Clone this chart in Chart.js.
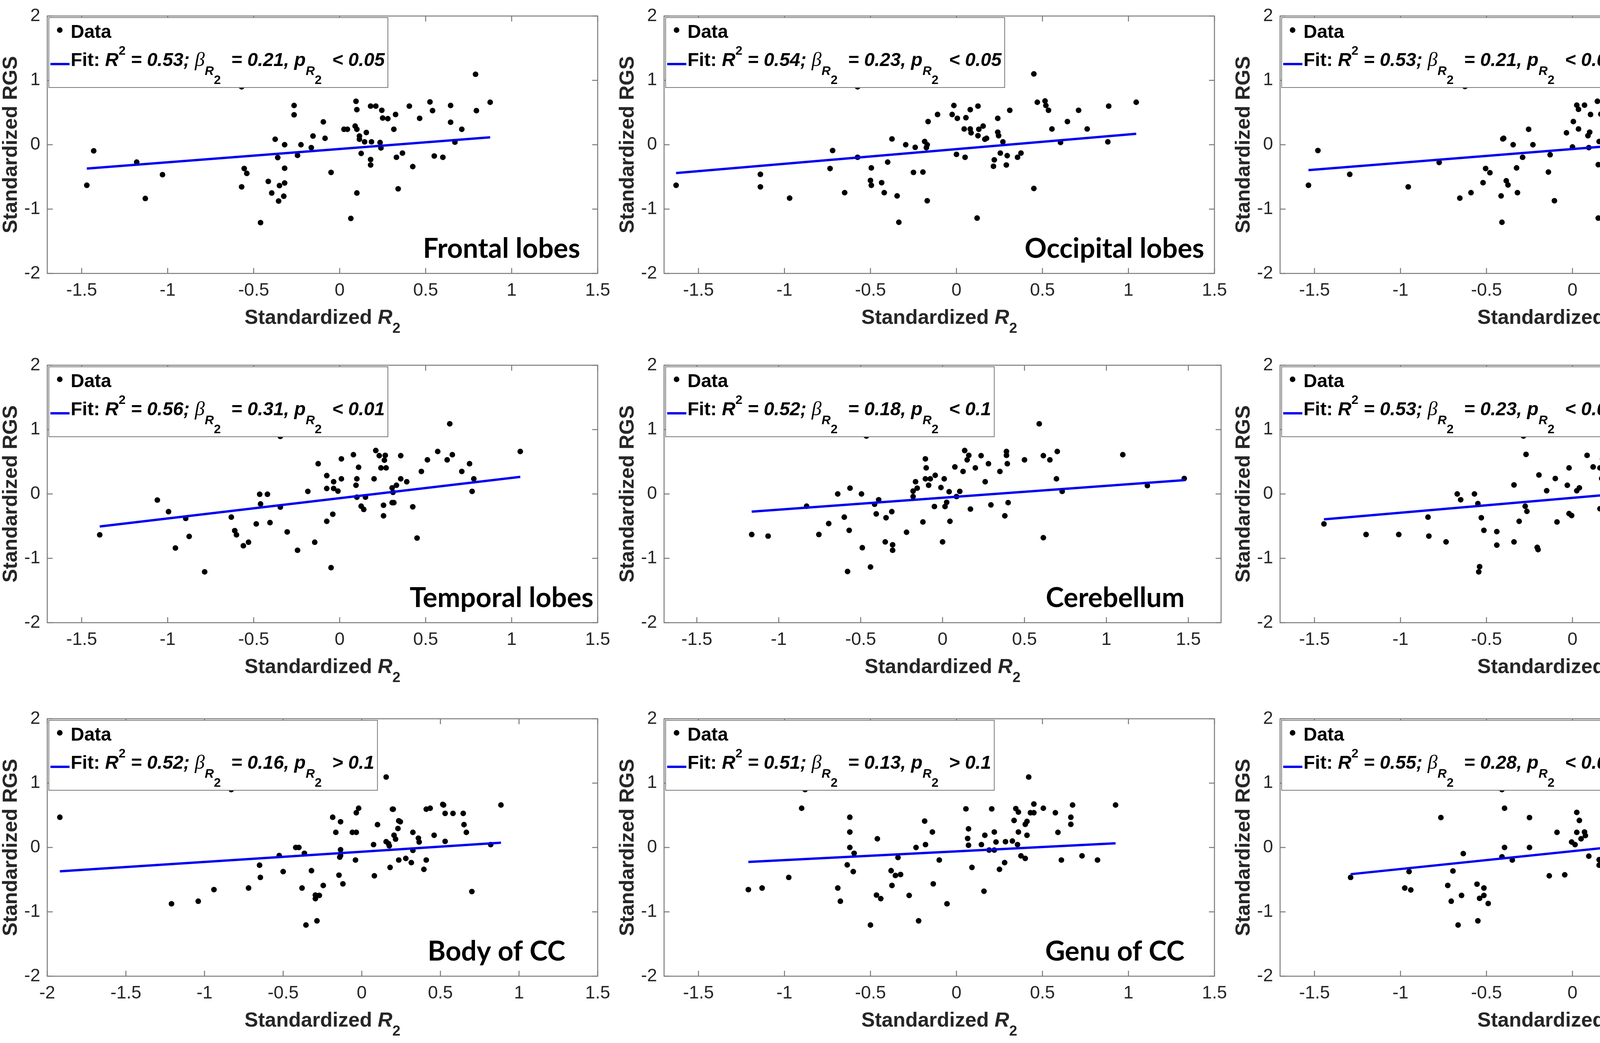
<!DOCTYPE html>
<html>
<head>
<meta charset="utf-8">
<script src="https://cdn.jsdelivr.net/npm/chart.js@4.4.1/dist/chart.umd.min.js"></script>
<style>
html, body { margin: 0; padding: 0; background: #fff; }
body { width: 4740px; height: 2670px; position: relative; overflow: hidden; }
canvas { position: absolute; }
</style>
</head>
<body>
<script>
// ---- data: [Standardized R2, Standardized RGS] ----
const frontal = [[-1.47,-0.63],[-1.43,-0.095],[-1.18,-0.27],[-1.13,-0.835],[-1.03,-0.465],[-0.57,0.9],[-0.57,-0.655],[-0.555,-0.37],[-0.54,-0.445],[-0.46,-1.21],[-0.415,-0.57],[-0.395,-0.75],[-0.375,0.085],[-0.36,-0.2],[-0.355,-0.875],[-0.35,-0.635],[-0.325,-0.8],[-0.32,-0.365],[-0.32,-0.595],[-0.32,0],[-0.265,0.61],[-0.265,0.465],[-0.245,-0.165],[-0.225,0],[-0.165,-0.045],[-0.155,0.135],[-0.095,0.355],[-0.085,0.1],[-0.05,-0.43],[0.025,0.24],[0.045,0.24],[0.065,-1.145],[0.09,0.29],[0.095,0.675],[0.1,0.545],[0.1,0.24],[0.1,-0.75],[0.115,0.135],[0.115,0.085],[0.125,-0.135],[0.145,0.045],[0.155,0.19],[0.18,0.6],[0.18,-0.23],[0.18,-0.315],[0.185,0.045],[0.21,0.6],[0.235,0.035],[0.24,-0.05],[0.245,0.535],[0.25,0.415],[0.28,0.405],[0.315,0.24],[0.325,0.47],[0.33,-0.195],[0.34,-0.685],[0.365,-0.13],[0.405,0.6],[0.425,-0.34],[0.465,0.41],[0.525,0.665],[0.54,0.53],[0.55,-0.175],[0.6,-0.195],[0.645,0.61],[0.645,0.35],[0.67,0.04],[0.71,0.24],[0.79,1.095],[0.795,0.53],[0.875,0.66]];
const occipital = [[-1.63,-0.63],[-1.14,-0.46],[-1.14,-0.655],[-0.97,-0.83],[-0.735,-0.37],[-0.72,-0.09],[-0.65,-0.745],[-0.575,0.9],[-0.575,-0.195],[-0.5,-0.555],[-0.495,-0.36],[-0.495,-0.63],[-0.435,-0.59],[-0.42,-0.745],[-0.4,-0.27],[-0.375,0.09],[-0.345,-0.795],[-0.335,-1.205],[-0.295,0],[-0.25,-0.43],[-0.24,-0.04],[-0.195,-0.425],[-0.185,0.05],[-0.175,-0.045],[-0.17,0],[-0.17,-0.87],[-0.165,0.36],[-0.11,0.47],[-0.025,0.47],[-0.015,0.61],[0,-0.15],[0.005,0.41],[0.045,0.245],[0.05,-0.195],[0.055,0.42],[0.08,0.545],[0.08,0.245],[0.085,0.185],[0.12,-1.14],[0.125,0.14],[0.125,0.6],[0.13,0.24],[0.155,0.29],[0.165,0.085],[0.175,0.1],[0.215,-0.335],[0.22,-0.235],[0.24,0.41],[0.24,0.195],[0.245,0.14],[0.255,-0.13],[0.27,0.045],[0.29,-0.315],[0.295,-0.17],[0.31,0.535],[0.355,-0.195],[0.375,-0.13],[0.45,1.1],[0.45,-0.68],[0.47,0.66],[0.515,0.68],[0.52,0.61],[0.535,0.535],[0.555,0.245],[0.605,0.035],[0.645,0.36],[0.71,0.535],[0.76,0.245],[0.88,0.045],[0.885,0.6],[1.045,0.66]];
const parietal = [[-1.535,-0.63],[-1.48,-0.09],[-1.295,-0.46],[-0.955,-0.655],[-0.775,-0.275],[-0.655,-0.83],[-0.625,0.905],[-0.59,-0.745],[-0.52,-0.59],[-0.505,-0.37],[-0.48,-0.435],[-0.415,-0.795],[-0.41,-1.205],[-0.405,0.09],[-0.4,0.1],[-0.385,-0.56],[-0.375,-0.625],[-0.345,0],[-0.325,-0.36],[-0.32,-0.745],[-0.29,-0.195],[-0.255,0.24],[-0.23,0],[-0.14,-0.425],[-0.13,-0.155],[-0.105,-0.87],[-0.035,0.185],[0,-0.035],[0.005,0.36],[0.025,0.615],[0.035,0.55],[0.035,0.245],[0.07,0.615],[0.09,0.14],[0.095,-0.045],[0.1,0.195],[0.105,0.47],[0.145,0.675],[0.15,-0.31],[0.15,-1.14],[0.155,0.05],[0.165,0.475],[0.18,0.42],[0.19,0.045],[0.195,-0.13],[0.2,0.295],[0.21,-0.195],[0.215,0.085],[0.225,-0.68],[0.28,0.24],[0.29,-0.23],[0.295,0.14],[0.295,0.41],[0.305,0.41],[0.315,-0.13],[0.325,0.61],[0.325,0.24],[0.335,0.535],[0.385,-0.165],[0.41,-0.335],[0.445,0.61],[0.475,0.035],[0.5,0.54],[0.53,0.62],[0.57,0.665],[0.585,0.535],[0.59,-0.195],[0.62,0.36],[0.705,1.1],[0.8,0.045],[0.825,0.24],[0.875,0.665]];
const temporal = [[-1.395,-0.635],[-1.06,-0.095],[-0.995,-0.275],[-0.955,-0.84],[-0.895,-0.38],[-0.875,-0.66],[-0.785,-1.21],[-0.63,-0.36],[-0.61,-0.57],[-0.6,-0.635],[-0.56,-0.805],[-0.53,-0.75],[-0.485,-0.465],[-0.465,-0.005],[-0.46,-0.155],[-0.42,-0.005],[-0.405,-0.445],[-0.345,0.895],[-0.345,-0.205],[-0.305,-0.59],[-0.245,-0.875],[-0.185,0.04],[-0.145,-0.75],[-0.125,0.47],[-0.075,0.085],[-0.075,0.285],[-0.075,-0.425],[-0.05,-1.145],[-0.04,-0.315],[-0.035,0.085],[-0.035,0.19],[-0.01,0.045],[0.01,0.545],[0.01,0.235],[0.08,0.61],[0.095,0.135],[0.1,-0.05],[0.1,0.235],[0.11,0.415],[0.125,-0.19],[0.14,-0.24],[0.15,-0.05],[0.2,0.235],[0.21,0.675],[0.23,0.595],[0.24,0.405],[0.255,-0.34],[0.255,-0.175],[0.26,0.525],[0.265,0.6],[0.27,0.405],[0.305,0.095],[0.305,-0.135],[0.31,0.025],[0.315,-0.135],[0.33,0.135],[0.355,0.595],[0.355,0.235],[0.39,0.19],[0.425,-0.2],[0.45,-0.685],[0.475,0.35],[0.51,0.53],[0.57,0.66],[0.625,0.53],[0.64,1.09],[0.655,0.61],[0.71,0.35],[0.755,0.47],[0.77,0.04],[0.78,0.235],[1.05,0.66]];
const cerebellum = [[-1.165,-0.63],[-1.065,-0.655],[-0.83,-0.19],[-0.755,-0.63],[-0.695,-0.46],[-0.64,0],[-0.6,-0.36],[-0.57,-0.565],[-0.565,0.09],[-0.58,-1.205],[-0.495,0],[-0.49,-0.835],[-0.465,0.9],[-0.44,-1.135],[-0.415,-0.16],[-0.405,-0.31],[-0.39,-0.09],[-0.35,-0.745],[-0.345,-0.37],[-0.31,-0.275],[-0.305,-0.79],[-0.305,-0.875],[-0.22,-0.595],[-0.18,0.045],[-0.18,-0.04],[-0.165,0.19],[-0.155,0.09],[-0.12,-0.435],[-0.105,0.545],[-0.1,0.405],[-0.105,0.235],[-0.085,0.135],[-0.075,0.235],[-0.05,-0.195],[-0.045,0.29],[-0.01,0.1],[0,-0.745],[0.01,0.235],[0.015,-0.195],[0.025,-0.13],[0.04,0.035],[0.045,-0.425],[0.075,0.42],[0.085,-0.04],[0.105,0.04],[0.125,0.35],[0.135,0.675],[0.15,0.53],[0.16,0.6],[0.17,-0.235],[0.2,0.405],[0.235,0.595],[0.26,0.19],[0.28,0.47],[0.295,-0.17],[0.35,0.35],[0.38,-0.34],[0.39,0.66],[0.39,0.6],[0.395,0.47],[0.4,-0.135],[0.5,0.53],[0.59,1.09],[0.615,-0.68],[0.615,0.595],[0.655,0.53],[0.695,0.235],[0.7,0.66],[0.73,0.04],[1.1,0.61],[1.25,0.13],[1.475,0.24]];
const internalCapsules = [[-1.445,-0.465],[-1.2,-0.63],[-1.01,-0.63],[-0.84,-0.36],[-0.835,-0.655],[-0.735,-0.745],[-0.67,0],[-0.65,-0.09],[-0.57,0],[-0.55,-0.15],[-0.54,-1.13],[-0.545,-1.21],[-0.53,-0.37],[-0.515,-0.565],[-0.44,-0.585],[-0.44,-0.795],[-0.34,0.14],[-0.34,-0.745],[-0.31,-0.425],[-0.285,0.9],[-0.275,-0.19],[-0.27,0.615],[-0.265,-0.27],[-0.205,-0.83],[-0.2,-0.865],[-0.195,0.295],[-0.15,0.05],[-0.1,0.24],[-0.09,-0.435],[-0.03,0.135],[-0.02,-0.305],[-0.02,0.405],[-0.005,-0.335],[0.025,0.05],[0.04,0.095],[0.085,0.6],[0.12,0.42],[0.16,-0.23],[0.16,0.405],[0.17,0.24],[0.175,0.24],[0.175,0.545],[0.22,0.24],[0.235,0.475],[0.24,0.045],[0.27,-0.04],[0.28,-0.04],[0.285,0.6],[0.3,0.6],[0.285,-0.19],[0.305,-0.19],[0.325,0.095],[0.33,0.35],[0.335,-0.165],[0.36,-0.68],[0.365,0.19],[0.4,0.19],[0.405,0.53],[0.45,0.675],[0.465,1.095],[0.465,-0.135],[0.475,0.53],[0.49,0.35],[0.515,0.66],[0.57,0.105],[0.575,0.47],[0.595,-0.135],[0.625,0.615],[0.645,0.53],[0.85,0.05],[0.92,0.24],[1.015,0.66]];
const bodyCC = [[-1.92,0.47],[-1.21,-0.875],[-1.04,-0.835],[-0.94,-0.655],[-0.83,0.9],[-0.72,-0.63],[-0.65,-0.275],[-0.645,-0.465],[-0.525,-0.125],[-0.5,-0.375],[-0.42,0],[-0.4,0],[-0.38,-0.63],[-0.365,-0.09],[-0.355,-1.205],[-0.32,-0.36],[-0.295,-0.795],[-0.295,-0.74],[-0.285,-1.14],[-0.27,-0.745],[-0.245,-0.59],[-0.185,0.47],[-0.165,0.235],[-0.145,-0.43],[-0.14,-0.15],[-0.135,0.4],[-0.135,-0.035],[-0.135,-0.125],[-0.12,-0.565],[-0.06,0.235],[-0.04,-0.195],[-0.035,0.235],[-0.035,0.54],[-0.02,0.61],[0.075,0.045],[0.08,-0.44],[0.1,0.355],[0.155,1.095],[0.155,0.09],[0.17,0.06],[0.175,0.025],[0.18,-0.31],[0.195,0.595],[0.2,0.595],[0.205,0.19],[0.215,0.13],[0.23,0.295],[0.235,-0.195],[0.235,0.415],[0.245,0.4],[0.28,-0.17],[0.315,-0.235],[0.325,0.235],[0.325,-0.045],[0.36,0.145],[0.365,0.085],[0.395,-0.34],[0.41,0.595],[0.41,-0.195],[0.435,0.61],[0.46,0.19],[0.515,0.67],[0.52,0.66],[0.53,0.53],[0.53,0.095],[0.58,0.53],[0.645,0.53],[0.65,0.355],[0.665,0.235],[0.7,-0.685],[0.82,0.045],[0.885,0.66]];
const genuCC = [[-1.21,-0.655],[-1.13,-0.63],[-0.975,-0.465],[-0.9,0.61],[-0.88,0.9],[-0.69,-0.63],[-0.675,-0.835],[-0.635,-0.27],[-0.62,0.47],[-0.62,0.24],[-0.62,0],[-0.6,-0.375],[-0.595,-0.09],[-0.5,-1.205],[-0.465,-0.74],[-0.46,0.135],[-0.44,-0.795],[-0.38,-0.36],[-0.375,-0.59],[-0.355,-0.435],[-0.34,-0.155],[-0.325,-0.42],[-0.275,-0.745],[-0.235,0],[-0.22,-1.14],[-0.185,0.41],[-0.18,0.045],[-0.14,0.24],[-0.135,-0.565],[-0.1,-0.195],[-0.055,-0.875],[0.055,0.6],[0.065,0.14],[0.07,0.29],[0.07,0.035],[0.09,-0.31],[0.145,0.045],[0.16,-0.68],[0.165,0.19],[0.19,-0.04],[0.205,0.6],[0.22,0.24],[0.22,-0.04],[0.23,0.085],[0.25,-0.34],[0.28,-0.235],[0.285,0.09],[0.325,0.1],[0.335,0.42],[0.345,0.605],[0.355,0.045],[0.36,0.55],[0.36,0.24],[0.375,-0.13],[0.4,-0.17],[0.4,0.36],[0.41,0.405],[0.41,0.19],[0.42,1.095],[0.43,0.54],[0.45,0.54],[0.45,0.675],[0.505,0.61],[0.575,0.54],[0.59,0.235],[0.61,-0.195],[0.665,0.36],[0.665,0.47],[0.675,0.66],[0.73,-0.13],[0.82,-0.195],[0.925,0.66]];
const spleniumCC = [[-1.29,-0.465],[-0.975,-0.63],[-0.95,-0.375],[-0.94,-0.66],[-0.765,0.465],[-0.725,-0.59],[-0.705,-0.835],[-0.695,-0.365],[-0.665,-1.205],[-0.645,-0.745],[-0.635,-0.095],[-0.555,-0.57],[-0.55,-1.14],[-0.54,-0.79],[-0.515,-0.745],[-0.515,-0.63],[-0.49,-0.87],[-0.41,0.9],[-0.41,-0.145],[-0.395,0.61],[-0.395,0],[-0.35,-0.195],[-0.25,0.465],[-0.25,0],[-0.135,-0.44],[-0.045,-0.425],[-0.09,0.235],[-0.005,0.085],[0.015,0.045],[0.025,0.545],[0.025,0.235],[0.04,0.42],[0.05,0.135],[0.07,0.24],[0.075,0.185],[0.095,-0.135],[0.155,-0.19],[0.155,-0.275],[0.21,-0.345],[0.23,-0.305],[0.25,-0.045],[0.25,0.6],[0.255,0.19],[0.26,0.085],[0.275,0.4],[0.29,0.11],[0.295,0.075],[0.31,-0.165],[0.31,-0.235],[0.325,0.355],[0.345,-0.135],[0.35,0.59],[0.355,0.135],[0.36,0.61],[0.375,0.355],[0.4,0.66],[0.42,0.035],[0.445,-0.045],[0.45,0.67],[0.5,0.285],[0.525,0.535],[0.57,-0.195],[0.575,1.09],[0.575,0.6],[0.645,0.535],[0.675,0.045],[0.73,-0.68],[0.815,0.235],[1.055,0.66]];

// fitted line end points [x, y]
const fitLines = [
  [[-1.47,-0.37],[0.875,0.115]],
  [[-1.63,-0.44],[1.045,0.17]],
  [[-1.535,-0.395],[0.875,0.12]],
  [[-1.395,-0.505],[1.05,0.265]],
  [[-1.165,-0.275],[1.48,0.215]],
  [[-1.445,-0.395],[1.015,0.175]],
  [[-1.92,-0.37],[0.885,0.075]],
  [[-1.21,-0.225],[0.925,0.065]],
  [[-1.29,-0.415],[1.055,0.235]]
];

const regionNames = ['Frontal lobes','Occipital lobes','Parietal lobes','Temporal lobes','Cerebellum','Internal capsules','Body of CC','Genu of CC','Splenium of CC'];
const r2Values = ['0.53','0.54','0.53','0.56','0.52','0.53','0.52','0.51','0.55'];
const betaValues = ['0.21','0.23','0.21','0.31','0.18','0.23','0.16','0.13','0.28'];
const pLabels = ['< 0.05','< 0.05','< 0.05','< 0.01','< 0.1','< 0.05','> 0.1','> 0.1','< 0.01'];
const xLimits = [[-1.7,1.5],[-1.7,1.5],[-1.7,1.5],[-1.7,1.5],[-1.7,1.7],[-1.7,1.5],[-2,1.5],[-1.7,1.5],[-1.7,1.5]];
const xTicksStd = [-1.5,-1,-0.5,0,0.5,1,1.5];
const xTicksWide = [-2,-1.5,-1,-0.5,0,0.5,1,1.5];
const yTicks = [-2,-1,0,1,2];
const regionData = [frontal, occipital, parietal, temporal, cerebellum, internalCapsules, bodyCC, genuCC, spleniumCC];

// ---- layout ----
const colLeft = [121, 1700, 3277];
const rowTop = [26, 920, 1825];
const BOX_W = 1426, BOX_H = 674;
const PAD_L = 121, PAD_T = 26, PAD_R = 36, PAD_B = 170;
const titleCenter = [1163, 1153, 1144, 1163, 1155, 1120, 1150, 1154, 1150];

const SANS = "'Liberation Sans', Arial, Helvetica, sans-serif";
const TEXT = '#262626';
const AXIS = '#7a7a7a';
const FIT = '#0000f0';
const TICK_LEN = 14;

function drawParts(ctx, parts, x, y) {
  let cx = x;
  parts.forEach(p => {
    ctx.font = p.font;
    ctx.fillText(p.t, cx, y + (p.dy || 0));
    cx += ctx.measureText(p.t).width;
  });
  return cx;
}

function partsWidth(ctx, parts) {
  let w = 0;
  parts.forEach(p => { ctx.font = p.font; w += ctx.measureText(p.t).width; });
  return w;
}

function legendParts(i) {
  const b = `bold 48px ${SANS}`;
  const bi = `italic bold 48px ${SANS}`;
  const sbi = `italic bold 32px ${SANS}`;
  const sb = `bold 32px ${SANS}`;
  const greek = `italic 51px 'Liberation Serif', 'DejaVu Serif', serif`;
  return [
    {t: 'Fit: ', font: b},
    {t: 'R', font: bi},
    {t: '2', font: sb, dy: -29},
    {t: ' = ' + r2Values[i] + '; ', font: bi},
    {t: '\u03B2', font: greek},
    {t: 'R', font: sbi, dy: 23},
    {t: '2', font: sb, dy: 46},
    {t: '  = ' + betaValues[i] + ', ', font: bi},
    {t: 'p', font: bi},
    {t: 'R', font: sbi, dy: 23},
    {t: '2', font: sb, dy: 46},
    {t: '  ' + pLabels[i], font: bi}
  ];
}

function makeFramePlugin(i) {
  return {
    id: 'frame' + i,
    beforeDatasetsDraw(chart) {
      const {ctx, chartArea: a, scales: {x, y}} = chart;
      ctx.save();
      ctx.strokeStyle = AXIS;
      ctx.lineWidth = 2.5;
      ctx.strokeRect(a.left, a.top, a.right - a.left, a.bottom - a.top);
      ctx.beginPath();
      x.ticks.forEach(t => {
        const px = x.getPixelForValue(t.value);
        ctx.moveTo(px, a.bottom); ctx.lineTo(px, a.bottom - TICK_LEN);
        ctx.moveTo(px, a.top); ctx.lineTo(px, a.top + TICK_LEN);
      });
      y.ticks.forEach(t => {
        const py = y.getPixelForValue(t.value);
        ctx.moveTo(a.left, py); ctx.lineTo(a.left + TICK_LEN, py);
        ctx.moveTo(a.right, py); ctx.lineTo(a.right - TICK_LEN, py);
      });
      ctx.stroke();
      ctx.restore();
    },
    afterDraw(chart) {
      const {ctx, chartArea: a} = chart;
      ctx.save();
      ctx.textBaseline = 'alphabetic';
      ctx.textAlign = 'left';

      // x axis title with italic R and subscript
      const xParts = [
        {t: 'Standardized ', font: `bold 52px ${SANS}`},
        {t: 'R', font: `italic bold 52px ${SANS}`},
        {t: '2', font: `bold 37px ${SANS}`, dy: 23}
      ];
      ctx.fillStyle = TEXT;
      const xw = partsWidth(ctx, xParts);
      drawParts(ctx, xParts, (a.left + a.right) / 2 - xw / 2, a.bottom + 129);

      // region name
      ctx.font = `bold 70px Lato, 'Open Sans', sans-serif`;
      ctx.fillStyle = '#000';
      ctx.textAlign = 'center';
      ctx.fillText(regionNames[i], a.left + titleCenter[i], a.bottom - 40);
      ctx.textAlign = 'left';

      // legend box
      const L = a.left + 4, T = a.top + 4;
      const parts = legendParts(i);
      const W = 56 + partsWidth(ctx, parts) + 8, H = 179;
      ctx.fillStyle = '#fff';
      ctx.fillRect(L, T, W, H);
      ctx.strokeStyle = AXIS;
      ctx.lineWidth = 2;
      ctx.strokeRect(L, T, W, H);
      ctx.fillStyle = '#000';
      ctx.beginPath();
      ctx.arc(L + 28, T + 32, 7.2, 0, Math.PI * 2);
      ctx.fill();
      ctx.font = `bold 48px ${SANS}`;
      ctx.fillText('Data', L + 56, T + 52);
      ctx.strokeStyle = FIT;
      ctx.lineWidth = 6;
      ctx.beginPath();
      ctx.moveTo(L + 4, T + 119);
      ctx.lineTo(L + 53, T + 119);
      ctx.stroke();
      ctx.fillStyle = '#000';
      drawParts(ctx, parts, L + 56, T + 124);
      ctx.restore();
    }
  };
}

regionData.forEach((points, i) => {
  const row = Math.floor(i / 3), col = i % 3;
  const canvas = document.createElement('canvas');
  canvas.width = PAD_L + BOX_W + PAD_R;
  canvas.height = PAD_T + BOX_H + PAD_B;
  canvas.style.left = (colLeft[col] - PAD_L) + 'px';
  canvas.style.top = (rowTop[row] - PAD_T) + 'px';
  canvas.style.width = canvas.width + 'px';
  canvas.style.height = canvas.height + 'px';
  document.body.appendChild(canvas);

  const xTicks = xLimits[i][0] <= -2 ? xTicksWide : xTicksStd;
  const tickFont = {family: SANS, size: 46, lineHeight: 1.0};

  new Chart(canvas, {
    type: 'scatter',
    data: {
      datasets: [
        {
          type: 'line',
          label: 'Fit',
          data: fitLines[i].map(([x, y]) => ({x, y})),
          borderColor: FIT,
          borderWidth: 6,
          pointRadius: 0,
          fill: false,
          order: 0
        },
        {
          label: 'Data',
          data: points.map(([x, y]) => ({x, y})),
          backgroundColor: '#000',
          borderWidth: 0,
          pointRadius: 7.2,
          order: 1
        }
      ]
    },
    options: {
      responsive: false,
      animation: false,
      devicePixelRatio: 1,
      layout: { padding: { left: 0, top: PAD_T, right: PAD_R, bottom: 0 } },
      plugins: { legend: { display: false }, tooltip: { enabled: false } },
      scales: {
        x: {
          type: 'linear',
          min: xLimits[i][0],
          max: xLimits[i][1],
          afterBuildTicks: s => { s.ticks = xTicks.map(v => ({value: v})); },
          afterFit: s => { s.height = PAD_B; },
          grid: { display: false, drawTicks: false },
          border: { display: false },
          ticks: { font: tickFont, color: TEXT, padding: 21, maxRotation: 0, autoSkip: false, callback: v => String(v) }
        },
        y: {
          type: 'linear',
          min: -2,
          max: 2,
          afterBuildTicks: s => { s.ticks = yTicks.map(v => ({value: v})); },
          afterFit: s => { s.width = PAD_L; },
          grid: { display: false, drawTicks: false },
          border: { display: false },
          ticks: { font: tickFont, color: TEXT, padding: 18, autoSkip: false, callback: v => String(v) },
          title: {
            display: true,
            text: 'Standardized RGS',
            color: TEXT,
            font: { family: SANS, size: 52, weight: 'bold', lineHeight: 1.1 },
            padding: { top: 0, bottom: 0 }
          }
        }
      }
    },
    plugins: [makeFramePlugin(i)]
  });
});
</script>
</body>
</html>
